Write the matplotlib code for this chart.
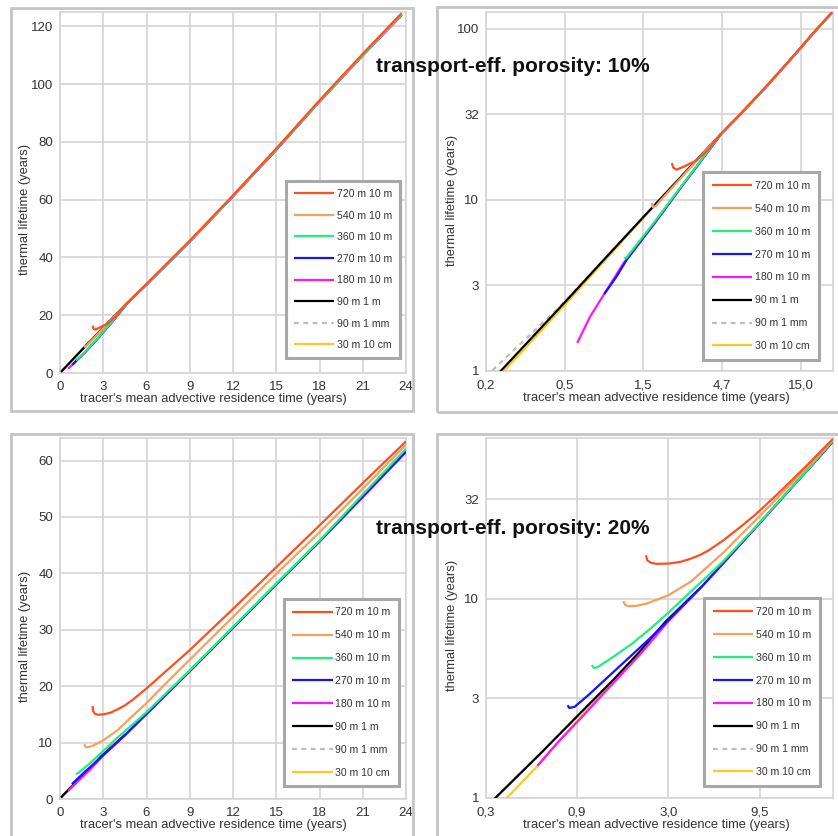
import matplotlib
matplotlib.use("Agg")
import matplotlib.pyplot as plt
from matplotlib.patches import Rectangle

plt.rcParams["font.family"] = ["Liberation Sans", "DejaVu Sans"]

# легенда: длина трещины / апертура
labels = ["720 m 10 m", "540 m 10 m", "360 m 10 m", "270 m 10 m",
          "180 m 10 m", "90 m 1 m", "90 m 1 mm", "30 m 10 cm"]
colors = ["#ff4f1f", "#f6a060", "#1ef07c", "#1414ff",
          "#ff14ff", "#000000", "#bdbdbd", "#ffc726"]
styles = ["-", "-", "-", "-", "-", "-", (0, (2.2, 2.0)), "-"]

# пористость 10 %
x10_720 = [2.27, 2.32, 2.43, 2.7, 3.26, 3.8, 4.3, 4.67, 6, 9, 12, 15, 18, 21, 23.7]
y10_720 = [16.4, 15.4, 15.0, 15.6, 17.0, 19.3, 22.2, 24.3, 30.8, 45.8, 61.5, 77.7, 94.4, 110.5, 124.6]
x10_540 = [1.70, 1.72, 1.80, 1.96, 2.5, 3.5, 4.67, 6, 9, 12, 15, 18, 21, 23.7]
y10_540 = [9.6, 9.05, 9.2, 10.1, 12.9, 18.2, 24.3, 30.7, 45.7, 61.4, 77.6, 94.3, 110.3, 124.4]
x10_360 = [1.13, 1.16, 1.73, 2.68, 3.5, 4.16, 4.67, 6, 9, 12, 15, 18, 21, 23.7]
y10_360 = [4.60, 4.55, 7.26, 12.4, 17.1, 21.1, 24.2, 30.6, 45.5, 61.2, 77.4, 94.0, 110.0, 124.1]
x10_270 = [0.845, 1.01, 1.17, 1.73, 2.68, 3.5, 4.16, 4.67, 6, 9, 12, 15, 18, 21, 23.7]
y10_270 = [2.81, 3.55, 4.44, 7.15, 12.3, 17.0, 21.0, 24.2, 30.6, 45.5, 61.2, 77.3, 94.0, 110.0, 124.0]
x10_180 = [0.57, 0.686, 0.85, 1.118, 1.73, 2.68, 3.5, 4.16, 4.67, 6, 9, 12, 15, 18, 21, 23.7]
y10_180 = [1.46, 2.07, 2.84, 4.25, 7.10, 12.3, 17.0, 21.0, 24.2, 30.6, 45.5, 61.2, 77.3, 94.0, 110.0, 124.0]
x10_90m = [0.07, 0.186, 0.3, 0.5, 0.8, 1.5, 2.5, 3.5, 4.67]
y10_90m = [0.4, 1.0, 1.6, 2.65, 4.25, 7.94, 13.1, 18.3, 24.3]
x10_90mm = [0.07, 0.163, 0.25, 0.44, 0.8, 1.5, 2.5, 3.5, 4.67]
y10_90mm = [0.45, 1.0, 1.45, 2.37, 4.25, 7.94, 13.1, 18.3, 24.3]
x10_30 = [0.07, 0.195, 0.3, 0.593, 1.0, 1.5, 2.5, 3.5, 4.67]
y10_30 = [0.35, 1.0, 1.53, 3.05, 5.2, 7.85, 13.0, 18.2, 24.2]

# пористость 20 %
x20_720 = [2.26, 2.30, 2.40, 2.6, 3.0, 3.5, 4.0, 4.5, 5.0, 6.0, 7.5, 9, 12, 15, 18, 21, 24]
y20_720 = [16.5, 15.6, 15.15, 14.95, 15.0, 15.3, 15.9, 16.6, 17.5, 19.6, 23.0, 26.4, 33.7, 41.1, 48.5, 56.0, 63.4]
x20_540 = [1.70, 1.74, 1.81, 2.0, 2.29, 3.0, 4.0, 4.89, 6.0, 7.5, 9, 12, 15, 18, 21, 24]
y20_540 = [9.72, 9.3, 9.17, 9.2, 9.46, 10.4, 12.2, 14.4, 17.0, 20.9, 24.7, 32.3, 39.9, 47.3, 55.0, 62.8]
x20_360 = [1.14, 1.17, 1.22, 1.4, 1.9, 2.4, 3.0, 4.0, 5.0, 6.0, 9, 12, 15, 18, 21, 24]
y20_360 = [4.64, 4.50, 4.52, 4.9, 5.95, 7.1, 8.5, 10.9, 13.15, 15.4, 22.8, 30.5, 38.2, 45.8, 54.0, 62.1]
x20_270 = [0.84, 0.86, 0.92, 1.1, 1.34, 1.8, 2.43, 3.0, 4.57, 6, 9, 12, 15, 18, 21, 24]
y20_270 = [2.92, 2.83, 2.87, 3.3, 3.9, 5.0, 6.44, 7.8, 11.5, 15.1, 22.7, 30.4, 38.1, 45.7, 53.6, 61.6]
x20_180 = [0.574, 0.75, 1.0, 1.5, 2.1, 3.0, 4.57, 6, 9, 12, 15, 18, 21, 24]
y20_180 = [1.45, 1.92, 2.53, 3.78, 5.25, 7.7, 11.45, 15.0, 22.6, 30.3, 38.0, 45.6, 53.5, 61.5]
x20_90m = [0.07, 0.343, 0.6, 1.0, 1.5, 2.1, 2.87, 4.57]
y20_90m = [0.25, 1.015, 1.68, 2.7, 3.92, 5.45, 7.6, 11.5]
x20_90mm = [0.07, 0.343, 0.6, 1.0, 1.5, 2.1, 2.87, 4.57]
y20_90mm = [0.25, 1.015, 1.68, 2.7, 3.92, 5.45, 7.6, 11.5]
x20_30 = [0.07, 0.39, 0.58, 0.8, 1.0, 1.5, 2.1, 3.0]
y20_30 = [0.2, 1.0, 1.46, 2.05, 2.58, 3.85, 5.35, 7.75]

series10 = [(x10_720, y10_720), (x10_540, y10_540), (x10_360, y10_360), (x10_270, y10_270),
            (x10_180, y10_180), (x10_90m, y10_90m), (x10_90mm, y10_90mm), (x10_30, y10_30)]
series20 = [(x20_720, y20_720), (x20_540, y20_540), (x20_360, y20_360), (x20_270, y20_270),
            (x20_180, y20_180), (x20_90m, y20_90m), (x20_90mm, y20_90mm), (x20_30, y20_30)]

# деления осей
lin_xticks = [0, 3, 6, 9, 12, 15, 18, 21, 24]
lin_yticks10 = [0, 20, 40, 60, 80, 100, 120]
lin_yticks20 = [0, 10, 20, 30, 40, 50, 60]
log_xlabels10 = ["0,2", "0,5", "1,5", "4,7", "15,0"]
log_xlabels20 = ["0,3", "0,9", "3,0", "9,5"]
log_ylabels10 = ["1", "3", "10", "32", "100"]
log_ylabels20 = ["1", "3", "10", "32"]

W, H = 838, 836
fig = plt.figure(figsize=(W / 100, H / 100), dpi=100)
fig.patch.set_facecolor("white")

TXT = "#333333"
GRID = "#d4d4d4"


def add_ax(l, t, r, b):
    return fig.add_axes([l / W, 1 - b / H, (r - l) / W, (b - t) / H])


def frame(l, t, r, b):
    fig.add_artist(Rectangle((l / W, 1 - b / H), (r - l) / W, (b - t) / H,
                             transform=fig.transFigure, fill=False,
                             ec="#c4c4c4", lw=2.0))


def draw(ax, series, log, xlim, ylim, xticks, xlabels, yticks, ylabels,
         xlab, ylab, leg_xy, spacing, pad):
    lines = []
    for i, (xs, ys) in enumerate(series):
        ln, = ax.plot(xs, ys, color=colors[i], ls=styles[i], lw=1.6,
                      zorder=10 - i, solid_capstyle="butt")
        lines.append(ln)
    if log:
        ax.set_xscale("log")
        ax.set_yscale("log")
    ax.set_xlim(*xlim)
    ax.set_ylim(*ylim)
    ax.set_xticks(xticks, xlabels)
    ax.set_yticks(yticks, ylabels)
    ax.minorticks_off()
    ax.tick_params(length=0, labelsize=9.5, labelcolor=TXT)
    ax.tick_params(axis="x", pad=6)
    ax.tick_params(axis="y", pad=5)
    ax.grid(color=GRID, lw=1.2)
    ax.set_axisbelow(True)
    for s in ax.spines.values():
        s.set_color(GRID)
        s.set_linewidth(1.2)
    ax.set_xlabel("tracer's mean advective residence time (years)",
                  fontsize=9.3, color=TXT, va="center")
    ax.set_ylabel("thermal lifetime (years)", fontsize=9.3, color=TXT, va="center")
    ax.xaxis.set_label_coords(*xlab)
    ax.yaxis.set_label_coords(*ylab)
    leg = ax.legend(lines, labels, loc="upper left",
                    bbox_to_anchor=(leg_xy[0] / W, 1 - leg_xy[1] / H),
                    bbox_transform=fig.transFigure, fontsize=7.6,
                    fancybox=False, framealpha=1, edgecolor="#a8a8a8",
                    handlelength=3.8, handletextpad=0.25, labelspacing=spacing,
                    borderpad=pad, borderaxespad=0)
    leg.get_frame().set_linewidth(2.2)
    for t in leg.get_texts():
        t.set_color(TXT)
    leg.set_zorder(20)


frame(11, 8, 413, 411)
frame(437, 7, 845, 412)
frame(11, 434, 413, 845)
frame(437, 434, 845, 845)

ax1 = add_ax(60, 12, 406, 373)
draw(ax1, series10, False, (0, 24), (0, 125), lin_xticks, [str(v) for v in lin_xticks],
     lin_yticks10, [str(v) for v in lin_yticks10],
     (0.442, -0.072), (-0.102, 0.452), (286, 181), 1.1, 0.75)

ax2 = add_ax(486, 12, 833, 371)
draw(ax2, series10, True, (0.15, 24), (1, 125),
     [0.15 * 10 ** (k / 2) for k in range(5)], log_xlabels10,
     [10 ** (k / 2) for k in range(5)], log_ylabels10,
     (0.491, -0.075), (-0.097, 0.474), (703, 172), 1.22, 0.85)

ax3 = add_ax(60, 438, 406, 799)
draw(ax3, series20, False, (0, 24), (0, 64), lin_xticks, [str(v) for v in lin_xticks],
     lin_yticks20, [str(v) for v in lin_yticks20],
     (0.442, -0.072), (-0.102, 0.449), (284, 599), 1.22, 0.8)

ax4 = add_ax(486, 438, 833, 798)
draw(ax4, series20, True, (0.3, 24), (1, 64),
     [0.3 * 10 ** (k / 2) for k in range(4)], log_xlabels20,
     [10 ** (k / 2) for k in range(4)], log_ylabels20,
     (0.491, -0.075), (-0.097, 0.479), (704, 598), 1.22, 0.85)

fig.text(513 / W, 1 - 67 / H, "transport-eff. porosity: 10%", ha="center",
         va="center", fontsize=15, fontweight="bold", color="#111111", zorder=30)
fig.text(513 / W, 1 - 528 / H, "transport-eff. porosity: 20%", ha="center",
         va="center", fontsize=15, fontweight="bold", color="#111111", zorder=30)

fig.savefig("out.png", dpi=100, facecolor="white")
